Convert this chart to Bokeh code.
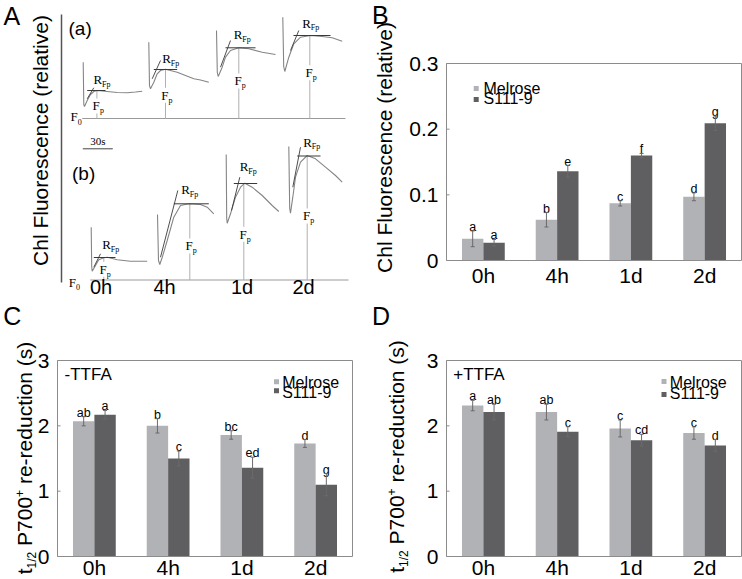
import math
from bokeh.plotting import figure
from bokeh.models import Range1d, Label, Whisker, TeeHead, ColumnDataSource
from bokeh.layouts import row, column
from bokeh.embed import file_html
from bokeh.resources import INLINE
from bokeh.core.properties import value

# ------------------------------------------------------------------ data
TIMES = ["0h", "4h", "1d", "2d"]
GENOTYPES = ["Melrose", "S111-9"]

# Panel A - Chl fluorescence transients after actinic light off
# t: seconds after light-off, f: fluorescence above F0 (relative units)
trace_a_t = [
    [0, 0.6, 1.3, 4, 7.3, 10.6, 14, 24, 34, 44, 52.3, 59],
    [0, 0.7, 1.7, 5, 8.4, 11.7, 16.7, 28.4, 36.7, 45, 51.7, 60],
    [0, 0.8, 1.7, 5.7, 9, 14, 22.3, 32.3, 45.7, 59],
    [0, 0.9, 2, 6, 11, 17.7, 27.7, 39.4, 49.4, 59.4],
]
trace_a_f = [
    [56.3, 14, 12, 18, 24, 27, 28, 27, 26, 25.7, 26.5, 27.3],
    [76.3, 33, 29.7, 36.3, 44.7, 48, 49.3, 46.3, 43, 39.7, 38.5, 36.3],
    [88, 46, 42, 51.3, 61.3, 68, 70.7, 69.7, 66.3, 64],
    [101.3, 52, 47, 61.3, 74.7, 81.3, 83, 82, 80.7, 77.3],
]
trace_b_t = [
    [0, 0.5, 1, 4.3, 7.6, 12.6, 16, 26, 39.3, 56],
    [0, 1, 2.3, 5, 9.7, 16.3, 23, 31.3, 43, 49.7, 56.3],
    [0, 0.5, 1, 4.3, 9.3, 14.3, 18.6, 26, 36, 46, 52.6],
    [0, 0.9, 1.7, 4, 6.7, 11.7, 18.4, 26.7, 36.7, 46.7, 53.4],
]
trace_b_f = [
    [52.8, 13.5, 8.8, 14.5, 20.2, 22.2, 22.8, 20.2, 18.8, 18.8],
    [65.5, 19.5, 15.5, 23.5, 39.5, 62.8, 74.5, 76.2, 75.5, 72.8, 66.2],
    [125.5, 61.5, 56.8, 66.2, 82.8, 92.8, 96.8, 92.8, 84.5, 74.5, 68.5],
    [133.5, 71.5, 66.8, 82.8, 102.8, 117.8, 124.5, 121.2, 112.8, 104.5, 97.8],
]
# peak (Fp) level and time of peak
fp_a = [28, 49, 70.7, 83]
tp_a = [13.7, 16.7, 22.3, 27]
fp_b = [22.5, 76.2, 96.5, 124]
tp_b = [12.6, 32.3, 17.6, 18.4]
# horizontal line through Fp (time span)
hl_a_t0 = [4, 5, 9, 10.7]
hl_a_t1 = [22.3, 28.4, 39, 47.7]
hl_b_t0 = [2.6, 16.3, 7.6, 8.4]
hl_b_t1 = [24.3, 51.3, 31, 31.7]
# tangent of the rise (two points: t, f)
tan_a_t0 = [4, 3.4, 4, 7.7]
tan_a_f0 = [19.7, 39.7, 51.3, 68]
tan_a_t1 = [10.6, 11.7, 14, 16]
tan_a_f1 = [30.7, 58, 78, 88]
tan_b_t0 = [2.6, 3, 5.3, 4]
tan_b_f0 = [12.8, 22.8, 69.5, 92.8]
tan_b_t1 = [9.3, 20.3, 13.6, 11.7]
tan_b_f1 = [26.2, 89.5, 102.8, 132.8]
SCALE_BAR_S = 30

# Panel B - Chl fluorescence (relative)
b_melrose = [0.033, 0.062, 0.087, 0.097]
b_melrose_err = [0.012, 0.011, 0.004, 0.006]
b_s111 = [0.027, 0.136, 0.160, 0.209]
b_s111_err = [0.005, 0.009, 0.003, 0.011]
b_let_melrose = ["a", "b", "c", "d"]
b_let_s111 = ["a", "e", "f", "g"]
B_YTICKS = [0, 0.1, 0.2, 0.3]
B_YTICK_TEXT = ["0", "0.1", "0.2", "0.3"]

# Panel C - t1/2 P700+ re-reduction (s), -TTFA
c_melrose = [2.07, 2.00, 1.86, 1.73]
c_melrose_err = [0.07, 0.11, 0.065, 0.06]
c_s111 = [2.17, 1.50, 1.36, 1.10]
c_s111_err = [0.065, 0.115, 0.16, 0.17]
c_let_melrose = ["ab", "b", "bc", "d"]
c_let_s111 = ["a", "c", "ed", "g"]

# Panel D - t1/2 P700+ re-reduction (s), +TTFA
d_melrose = [2.31, 2.21, 1.96, 1.89]
d_melrose_err = [0.08, 0.12, 0.13, 0.095]
d_s111 = [2.21, 1.91, 1.78, 1.70]
d_s111_err = [0.12, 0.077, 0.09, 0.09]
d_let_melrose = ["a", "ab", "c", "c"]
d_let_s111 = ["ab", "c", "cd", "d"]
CD_YTICKS = [0, 1, 2, 3]
CD_YTICK_TEXT = ["0", "1", "2", "3"]

# ------------------------------------------------------------------ style / layout
SANS = "Liberation Sans"
SERIF = "Liberation Serif"
C_MEL = "#b1b2b5"
C_S11 = "#5f5f62"
FRAME_COL = "#8c8c8c"
ERR_COL = "#6a6a6a"
TXT = "#000000"
MID = 0.35       # distance baseline -> text-box centre, in em
ROT_FIX = -6     # correction for rotated labels (px)
LETTER_SIZE = 25

LEFT_W, RIGHT_W = 370, 372
TOP_H, BOT_H = 298, 281

ARIAL = {'t': .278, '1': .556, '/': .278, '2': .556, ' ': .278, 'P': .667, '7': .556,
         '0': .556, '+': .584, 'r': .333, 'e': .556, '-': .333, 'd': .556, 'u': .556,
         'c': .5, 'i': .222, 'o': .556, 'n': .556, '(': .333, 's': .5, ')': .333}


def tw(text, size):
    return sum(ARIAL.get(ch, .556) for ch in text) * size


def add_label(p, text, x, y, size, font=SANS, **kw):
    kw.setdefault("text_baseline", "middle")
    lab = Label(x=x, y=y, text=text, text_font=font, text_font_size=f"{size}px",
                text_color=kw.pop("text_color", TXT), **kw)
    p.add_layout(lab)
    return lab


def bare_figure(width, height, x_range, y_range):
    p = figure(width=width, height=height, x_range=x_range, y_range=y_range,
               x_axis_type=None, y_axis_type=None, output_backend="svg",
               toolbar_location=None, min_border=0)
    p.outline_line_color = None
    p.background_fill_color = "white"
    p.border_fill_color = "white"
    return p


# ------------------------------------------------------------------ panel A
pa = bare_figure(LEFT_W, TOP_H, Range1d(0, LEFT_W), Range1d(TOP_H, 0))


def a_text(text, x, baseline, size, font=SERIF, **kw):
    # panel A data coordinates are page pixels (y downwards)
    return add_label(pa, text, x, baseline - MID * size, size, font=font, **kw)


ROW_BASE = [118, 279.5]
ROW_START = [[82.7, 148.3, 216, 282.3], [90.7, 157, 225.7, 288.3]]
ROW_END = [345, 348]
R_DX = [[-3.4, -3.3, -5, -7.6], [-1.6, -8.6, -4, -4]]
R_DY = [[6, 6.4, 8.3, 7.7], [8, 9.3, 12, 9.3]]
F_H = [[8, 18.7, 33, 41.3], [6.2, 29.5, 41.2, 59.5]]

rows = [
    (trace_a_t, trace_a_f, fp_a, tp_a, hl_a_t0, hl_a_t1, tan_a_t0, tan_a_f0, tan_a_t1, tan_a_f1),
    (trace_b_t, trace_b_f, fp_b, tp_b, hl_b_t0, hl_b_t1, tan_b_t0, tan_b_f0, tan_b_t1, tan_b_f1),
]

pa.segment(x0=[61], x1=[61], y0=[14], y1=[282], line_color="#555555", line_width=1.5)

for r, (tt, ff, fp, tp, h0, h1, t0, f0, t1, f1) in enumerate(rows):
    base = ROW_BASE[r]
    starts = ROW_START[r]
    pa.segment(x0=[starts[0] - 1], x1=[ROW_END[r]], y0=[base], y1=[base],
               line_color="#9a9a9a", line_width=1)
    for i in range(4):
        s = starts[i]
        pa.segment(x0=[s + tp[i]], x1=[s + tp[i]], y0=[base - fp[i]], y1=[base],
                   line_color="#b0b0b0", line_width=1)
        pa.line(x=[s + t for t in tt[i]], y=[base - f for f in ff[i]],
                line_color="#858585", line_width=1.1)
        pa.segment(x0=[s + h0[i]], x1=[s + h1[i]], y0=[base - fp[i]], y1=[base - fp[i]],
                   line_color="#3a3a3a", line_width=1)
        pa.segment(x0=[s + t0[i]], x1=[s + t1[i]], y0=[base - f0[i]], y1=[base - f1[i]],
                   line_color="#3a3a3a", line_width=0.9)
        rx = s + tp[i] + R_DX[r][i]
        ry = base - fp[i] - R_DY[r][i]
        a_text("R", rx, ry, 13)
        a_text("Fp", rx + 8.5, ry + 2.8, 8)
        fx = s + tp[i] - 4.3
        fy = base - F_H[r][i]
        a_text("F", fx, fy, 13, background_fill_color="white")
        a_text("p", fx + 7.3, fy + 3, 8, background_fill_color="white")

a_text("F", 70, 121, 13)
a_text("0", 77.3, 124, 8)
a_text("F", 68.3, 286.5, 13)
a_text("0", 75.6, 289.3, 8)
add_label(pa, "(a)", 68, 28, 19)
add_label(pa, "(b)", 71.5, 173, 19)
pa.segment(x0=[82.3], x1=[82.3 + SCALE_BAR_S], y0=[148.3], y1=[148.3],
           line_color="#444444", line_width=1)
a_text("30s", 97.3, 144.5, 11, text_align="center")
pa.text(x=[100.5, 164, 241.5, 303], y=[286] * 4, text=TIMES, text_align="center",
        text_baseline="middle", text_font=value(SANS), text_font_size=value("20px"),
        text_color=TXT)
add_label(pa, "Chl Fluorescence (relative)", 50.5 - MID * 21 - 3, 140, 21, font=SANS,
          angle=math.pi / 2, text_align="center")
a_text("A", 3, 24.5, LETTER_SIZE, font=SANS)


# ------------------------------------------------------------------ bar panels
def bar_panel(width, height, ref_x0, ref_y0, area, ymax, yticks, ytick_text, cat_y,
              mel, mel_err, s11, s11_err, let_m, let_s):
    L, R, T, B = area  # plot area in page pixels
    sx = 4 / (R - L)
    sy = ymax / (B - T)
    X = lambda rx: (rx - L) * sx
    Y = lambda ry: (B - ry) * sy
    p = bare_figure(width, height, Range1d(X(ref_x0), X(ref_x0 + width)),
                    Range1d(Y(ref_y0 + height), Y(ref_y0)))

    xs = [i + 0.5 - 0.145 for i in range(4)] + [i + 0.5 + 0.145 for i in range(4)]
    tops = list(mel) + list(s11)
    errs = list(mel_err) + list(s11_err)
    src = ColumnDataSource(dict(
        x=xs, top=tops,
        lower=[t - e for t, e in zip(tops, errs)],
        upper=[t + e for t, e in zip(tops, errs)],
        color=[C_MEL] * 4 + [C_S11] * 4,
        letter=list(let_m) + list(let_s),
    ))
    p.vbar(x="x", top="top", bottom=0, width=0.29, fill_color="color", line_color=None, source=src)
    p.add_layout(Whisker(source=src, base="x", upper="upper", lower="lower",
                         line_color=ERR_COL, line_width=1, level="overlay",
                         upper_head=TeeHead(size=4, line_color=ERR_COL, line_width=1),
                         lower_head=TeeHead(size=4, line_color=ERR_COL, line_width=1)))
    p.text(x="x", y="upper", text="letter", source=src, text_align="center",
           text_baseline="alphabetic", y_offset=-4, text_font=value(SANS),
           text_font_size=value("12.5px"), text_color=TXT)
    # frame and axes
    p.quad(left=[0], right=[4], bottom=[0], top=[ymax], fill_color=None,
           line_color=FRAME_COL, line_width=1)
    n = len(yticks)
    p.segment(x0=[0] * n, x1=[X(L + 3)] * n, y0=yticks, y1=yticks, line_color=FRAME_COL)
    p.text(x=[X(L - 8)] * n, y=yticks, text=ytick_text, text_align="right",
           text_baseline="middle", text_font=value(SANS), text_font_size=value("21px"),
           text_color=TXT)
    p.text(x=[i + 0.5 for i in range(4)], y=[Y(cat_y)] * 4, text=TIMES, text_align="center",
           text_baseline="middle", text_font=value(SANS), text_font_size=value("21px"),
           text_color=TXT)
    return p, X, Y


def p_text(p, X, Y, text, x, baseline, size, **kw):
    return add_label(p, text, X(x), Y(baseline - MID * size), size, **kw)


def legend(p, X, Y, sq_x, sq_y, tx_x, tx_y):
    p.scatter(x=[X(sq_x)] * 2, y=[Y(v) for v in sq_y], marker="square", size=5,
              fill_color=[C_MEL, C_S11], line_color=None)
    for g, ty in zip(GENOTYPES, tx_y):
        p_text(p, X, Y, g, tx_x, ty, 16)


def ylabel_pieces(p, X, Y, pieces, bx, cy):
    gap = tw(" ", 21)
    total = 0
    adv = []
    for text, size, shift, pre in pieces:
        total += (gap if pre else 0)
        adv.append(total)
        total += tw(text, size)
    start = -total / 2
    for (text, size, shift, pre), a in zip(pieces, adv):
        p.add_layout(Label(x=X(bx), y=Y(cy), x_offset=shift - MID * size + ROT_FIX,
                           y_offset=start + a, text=text, angle=math.pi / 2,
                           text_align="left", text_baseline="middle", text_font=SANS,
                           text_font_size=f"{size}px", text_color=TXT))


# B
pb, XB, YB = bar_panel(RIGHT_W, TOP_H, 370, 0, (446, 741, 63, 260), 0.3,
                       B_YTICKS, B_YTICK_TEXT, 275,
                       b_melrose, b_melrose_err, b_s111, b_s111_err, b_let_melrose, b_let_s111)
legend(pb, XB, YB, 475.7, [88, 99], 483, [93.3, 104])
add_label(pb, "Chl Fluorescence (relative)", XB(399.5 - MID * 21 - 8), YB(147), 21,
          angle=math.pi / 2, text_align="center")
p_text(pb, XB, YB, "B", 371.5, 23, LETTER_SIZE)

T_PIECES = [("t", 21, 0, False), ("1/2", 12, 4, False), ("P700", 21, 0, True),
            ("+", 12, -8, False), ("re-reduction (s)", 21, 0, True)]

# C
pc, XC, YC = bar_panel(LEFT_W, BOT_H, 0, TOP_H, (57, 352, 360, 556), 3,
                       CD_YTICKS, CD_YTICK_TEXT, 567,
                       c_melrose, c_melrose_err, c_s111, c_s111_err, c_let_melrose, c_let_s111)
legend(pc, XC, YC, 276, [381.3, 390.3], 281.7, [387.3, 397.3])
p_text(pc, XC, YC, "-TTFA", 64, 380, 17)
ylabel_pieces(pc, XC, YC, T_PIECES, 37.5, 457.5)
p_text(pc, XC, YC, "C", 2.7, 324, LETTER_SIZE)

# D
pd, XD, YD = bar_panel(RIGHT_W, BOT_H, 370, TOP_H, (446, 741, 360, 556), 3,
                       CD_YTICKS, CD_YTICK_TEXT, 567,
                       d_melrose, d_melrose_err, d_s111, d_s111_err, d_let_melrose, d_let_s111)
legend(pd, XD, YD, 663.5, [381, 394], 669.3, [387.3, 399])
p_text(pd, XD, YD, "+TTFA", 452.7, 380, 17)
ylabel_pieces(pd, XD, YD, T_PIECES, 409.5, 456)
p_text(pd, XD, YD, "D", 371.5, 324, LETTER_SIZE)

layout = column(row(pa, pb), row(pc, pd))

open("out.html", "w").write(file_html(layout, INLINE))
